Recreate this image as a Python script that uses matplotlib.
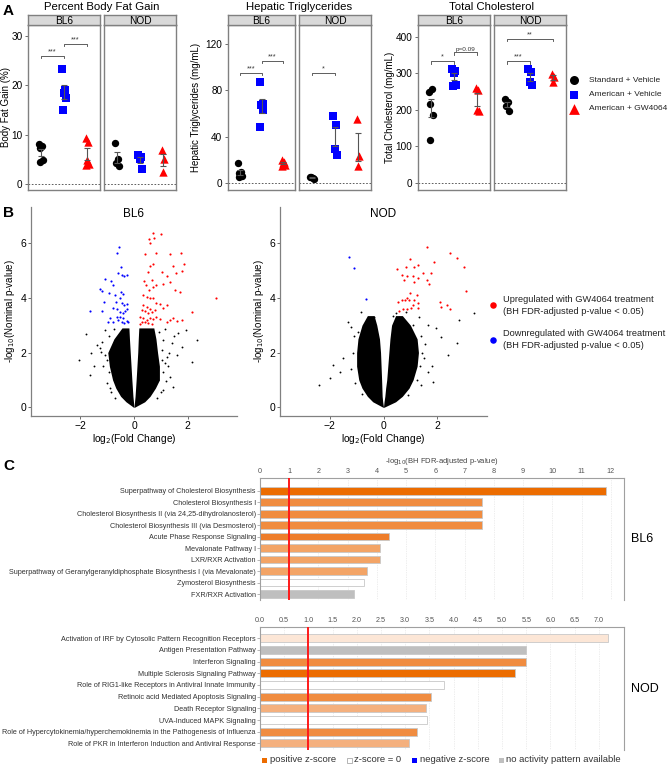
import numpy as np
import matplotlib
matplotlib.use('Agg')
import matplotlib.pyplot as plt
from matplotlib.patches import Rectangle

plt.rcParams['font.family'] = ['Liberation Sans', 'DejaVu Sans']

# ---------------- panel A data ----------------
group_names = ['Standard + Vehicle', 'American + Vehicle', 'American + GW4064']
group_colors = ['black', '#0000FF', '#FF0000']
group_markers = ['o', 's', '^']

fat_bl6 = [[8.0, 7.6, 7.2, 4.8, 4.4], [23.4, 19.1, 18.4, 17.4, 14.9], [9.2, 8.4, 4.9, 3.9, 3.8]]
fat_nod = [[8.3, 5.1, 4.3, 3.6], [5.9, 5.4, 5.1, 2.9], [6.8, 5.1, 2.4]]
tg_bl6 = [[16.9, 9.7, 8.3, 6.0, 5.4], [86.8, 68.3, 66.8, 62.5, 48.2], [19.7, 18.3, 17.4, 15.4, 14.8]]
tg_nod = [[5.1, 4.3, 5.5, 3.5], [57.4, 50.3, 28.9, 24.0], [55.4, 23.1, 14.8]]
chol_bl6 = [[248, 258, 217, 185, 119], [313, 306, 300, 268, 265], [260, 255, 200, 196]]
chol_nod = [[230, 221, 210, 196], [312, 303, 276, 267], [297, 291, 276]]

fat_bl6_sig = [(1, 2, 26.0, '***'), (2, 3, 28.5, '***')]
tg_bl6_sig = [(1, 2, 95, '***'), (2, 3, 105, '***')]
tg_nod_sig = [(1, 2, 95, '*')]
chol_bl6_sig = [(1, 2, 333, '*'), (2, 3, 357, 'p=0.09')]
chol_nod_sig = [(1, 2, 333, '***'), (1, 3, 394, '**')]

# ---------------- panel B data ----------------
# dense core of the volcano cloud (envelope)
bl6_core_y = [0.0, 0.2, 0.4, 0.7, 1.0, 1.5, 2.0, 2.5, 2.9]
bl6_core_lo_out = [-0.02, -0.3, -0.5, -0.68, -0.8, -0.92, -0.98, -0.75, -0.45]
bl6_core_lo_in = [0.0, -0.02, -0.04, -0.06, -0.08, -0.11, -0.14, -0.17, -0.19]
bl6_core_hi_in = [0.0, 0.02, 0.04, 0.06, 0.08, 0.11, 0.14, 0.16, 0.18]
bl6_core_hi_out = [0.02, 0.4, 0.6, 0.8, 0.95, 0.95, 0.88, 0.82, 0.74]

bl6_black_x = [-1.79, -2.07, -1.60, -1.48, -1.64, -1.39, -1.27, -1.24, -1.08, -1.02, -0.89,
               1.96, 2.36, 1.81, 2.18, 1.65, 1.43, 1.34, 1.44, 1.22, 1.09, 1.28, 1.03, 0.91, 1.09,
               -1.10, -1.15, -0.95, -1.00, -0.85, -0.70, -1.20, -0.95, -0.75, 1.05, 1.15, 1.10,
               1.20, 1.00, 0.85, 1.30, 0.95, 1.15, 1.50, 1.60]
bl6_black_y = [2.67, 1.73, 1.97, 1.49, 1.18, 2.28, 2.16, 2.03, 2.83, 1.73, 0.69,
               2.83, 2.46, 2.22, 1.67, 2.70, 2.34, 1.12, 0.75, 1.85, 2.46, 1.49, 1.73, 1.00, 0.63,
               1.90, 1.50, 1.30, 0.90, 0.55, 0.35, 2.40, 2.60, 2.85, 2.10, 1.60, 1.30,
               0.95, 0.55, 0.35, 2.00, 2.75, 2.85, 2.60, 1.90]

bl6_up_x = [0.70, 1.02, 0.74, 0.57, 0.60, 0.42, 0.84, 1.34, 1.74, 1.46, 1.86, 0.70, 0.60, 0.51,
            1.04, 1.22, 1.56, 1.81, 0.38, 0.66, 1.09, 1.34, 1.53, 1.71, 0.57, 0.72, 0.84, 0.45,
            0.35, 0.47, 0.60, 0.72, 0.84, 0.97, 1.22, 0.35, 0.47, 0.60, 0.29, 0.41, 0.53, 0.66,
            0.78, 1.09, 0.22, 0.35, 0.47, 0.60, 0.72, 0.84, 0.97, 1.34, 1.46, 1.59, 1.78, 1.22,
            0.29, 0.41, 0.53, 0.66, 0.22, 3.05, 2.18]
bl6_up_y = [6.38, 6.32, 6.20, 6.14, 6.00, 5.59, 5.63, 5.60, 5.65, 5.18, 5.25, 5.24, 5.16, 4.96,
            4.96, 4.78, 4.90, 4.98, 4.63, 4.65, 4.50, 4.59, 4.29, 4.23, 4.29, 4.41, 4.47, 4.47,
            4.11, 4.04, 3.98, 3.98, 3.80, 3.76, 3.74, 3.74, 3.68, 3.59, 3.56, 3.52, 3.43, 3.50,
            3.56, 3.62, 3.31, 3.25, 3.19, 3.25, 3.21, 3.31, 3.23, 3.19, 3.25, 3.16, 3.18, 3.13,
            3.13, 3.11, 3.07, 3.03, 3.03, 3.98, 3.50]
bl6_down_x = [-0.56, -0.65, -0.50, -0.61, -1.08, -0.87, -0.77, -0.46, -0.27, -0.37, -1.27,
              -1.20, -0.92, -0.71, -0.50, -0.40, -1.12, -0.67, -0.52, -0.46, -0.37, -0.27,
              -1.66, -1.20, -0.77, -0.65, -0.52, -0.42, -0.34, -0.25, -0.89, -0.96, -0.77,
              -0.58, -0.46, -0.37, -0.27, -0.21, -0.65, -0.52, -0.42]
bl6_down_y = [5.84, 5.63, 5.14, 4.90, 4.69, 4.62, 4.47, 4.84, 4.84, 4.78, 4.33,
              4.25, 4.17, 4.10, 4.23, 4.13, 3.86, 3.86, 3.98, 3.80, 3.74, 3.76,
              3.52, 3.52, 3.64, 3.59, 3.50, 3.44, 3.52, 3.59, 3.25, 3.13, 3.13,
              3.19, 3.13, 3.07, 3.16, 3.11, 3.31, 3.31, 3.28]

nod_core_y = [0.0, 0.2, 0.4, 0.7, 1.0, 1.5, 2.0, 2.5, 3.0, 3.35]
nod_core_lo_out = [-0.02, -0.4, -0.6, -0.8, -0.92, -1.0, -1.0, -0.95, -0.8, -0.6]
nod_core_lo_in = [0.0, -0.03, -0.05, -0.06, -0.07, -0.09, -0.11, -0.15, -0.25, -0.35]
nod_core_hi_in = [0.0, 0.02, 0.05, 0.08, 0.12, 0.16, 0.2, 0.24, 0.3, 0.45]
nod_core_hi_out = [0.02, 0.45, 0.7, 0.95, 1.1, 1.25, 1.3, 1.25, 1.0, 0.7]

nod_black_x = [-0.84, -1.31, -1.21, -0.59, -0.36, -0.93, 0.45, 0.58, 0.83, 1.33, 1.65, 1.96,
               2.15, 2.82, 3.35, 2.72, 2.40, -1.50, -1.62, -1.87, 1.65, 1.84, 1.52, 1.40,
               -2.40, -2.00, -1.10, -1.15, -1.20, -1.05, -0.80, -0.70, 1.40, 1.45, 1.35,
               1.25, 0.90, 1.10, 1.55, 0.35, 1.80]
nod_black_y = [3.49, 3.13, 2.95, 3.19, 3.31, 2.76, 3.44, 3.31, 3.50, 3.31, 3.01, 2.89,
               2.58, 3.19, 3.44, 2.34, 1.91, 1.79, 1.30, 1.55, 1.30, 0.94, 1.79, 0.82,
               0.82, 1.08, 2.60, 2.00, 1.40, 0.90, 0.50, 3.00, 2.60, 2.00, 1.50,
               1.00, 0.45, 3.00, 2.30, 3.35, 1.50]
nod_up_x = [1.62, 2.49, 2.75, 3.01, 0.98, 1.27, 1.12, 0.49, 0.83, 1.87, 1.48, 1.75, 0.67,
            0.89, 1.30, 1.08, 0.77, 1.61, 1.71, 1.14, 3.06, 0.98, 1.25, 0.87, 0.79, 0.96,
            1.14, 0.55, 1.27, 0.67, 2.09, 1.08, 2.13, 2.36, 0.74, 0.87, 1.04, 2.47, 1.30, 0.58]
nod_up_y = [5.87, 5.63, 5.45, 5.14, 5.41, 5.20, 5.12, 5.04, 5.14, 5.30, 4.90, 4.90, 4.84,
            4.78, 4.72, 4.78, 4.65, 4.65, 4.50, 4.59, 4.25, 4.17, 4.10, 3.98, 3.92, 3.92,
            3.92, 3.86, 3.80, 3.92, 3.86, 3.74, 3.68, 3.72, 3.59, 3.59, 3.62, 3.59, 3.64, 3.52]
nod_down_x = [-1.27, -1.09, -0.65]
nod_down_y = [5.51, 5.08, 3.94]

# ---------------- panel C data ----------------
bl6_paths = ['Superpathway of Cholesterol Biosynthesis', 'Cholesterol Biosynthesis I',
             'Cholesterol Biosynthesis II (via 24,25-dihydrolanosterol)',
             'Cholesterol Biosynthesis III (via Desmosterol)', 'Acute Phase Response Signaling',
             'Mevalonate Pathway I', 'LXR/RXR Activation',
             'Superpathway of Geranylgeranyldiphosphate Biosynthesis I (via Mevalonate)',
             'Zymosterol Biosynthesis', 'FXR/RXR Activation']
bl6_logp = [11.85, 7.6, 7.6, 7.6, 4.4, 4.12, 4.12, 3.65, 3.56, 3.22]
bl6_cols = ['#EC6C00', '#F08C40', '#F08C40', '#F08C40', '#EE7D2A', '#F3A466', '#F3A466',
            '#F3A466', 'white', '#BFBFBF']

nod_paths = ['Activation of IRF by Cytosolic Pattern Recognition Receptors',
             'Antigen Presentation Pathway', 'Interferon Signaling',
             'Multiple Sclerosis Signaling Pathway',
             'Role of RIG1-like Receptors in Antiviral Innate Immunity',
             'Retinoic acid Mediated Apoptosis Signaling', 'Death Receptor Signaling',
             'UVA-Induced MAPK Signaling',
             'Role of Hypercytokinemia/hyperchemokinemia in the Pathogenesis of Influenza',
             'Role of PKR in Interferon Induction and Antiviral Response']
nod_logp = [7.18, 5.5, 5.5, 5.27, 3.81, 3.53, 3.43, 3.44, 3.25, 3.08]
nod_cols = ['#FCE6D6', '#BFBFBF', '#F08C40', '#EC6C00', 'white', '#F08C40', '#F4B07E',
            'white', '#F08C40', '#F4B07E']

W, H = 672, 767
fig = plt.figure(figsize=(W / 100, H / 100), dpi=100)


def px_axes(x0, y0, x1, y1):
    return fig.add_axes([x0 / W, 1 - y1 / H, (x1 - x0) / W, (y1 - y0) / H])


jitter = [-0.07, 0.05, -0.02, 0.08, -0.05]
edge = '#808080'


def facet(x0, x1, data, sig, ylim, yticks, strip, show_y):
    ax = px_axes(x0, 25, x1, 190)
    st = px_axes(x0, 15, x1, 25)
    st.set_facecolor('#D9D9D9')
    st.set_xticks([])
    st.set_yticks([])
    st.text(0.5, 0.45, strip, ha='center', va='center', fontsize=7.3, transform=st.transAxes)
    for a in (ax, st):
        for sp in a.spines.values():
            sp.set_color(edge)
            sp.set_linewidth(1.0)
    ax.set_xlim(0.45, 3.55)
    ax.set_ylim(ylim)
    ax.axhline(0, color='#444444', lw=0.6, ls=(0, (2, 2)), zorder=1)
    sizes = [28, 26, 36]
    for i, vals in enumerate(data):
        vals = np.asarray(vals, dtype=float)
        xs = i + 1 + np.array(jitter[:len(vals)])
        ax.scatter(xs, vals, c=group_colors[i], marker=group_markers[i], s=sizes[i],
                   linewidths=0, zorder=3)
        m = vals.mean()
        se = vals.std(ddof=1) / np.sqrt(len(vals))
        ax.errorbar(i + 1, m, yerr=se, fmt='none', ecolor='#555555', elinewidth=0.8,
                    capsize=2.5, capthick=0.8, zorder=4)
    span = ylim[1] - ylim[0]
    for a, b, h, lab in sig:
        d = span * 0.014
        ax.plot([a, a, b, b], [h - d, h, h, h - d], color='#444444', lw=0.6)
        ax.text((a + b) / 2, h + span * 0.004, lab, ha='center', va='bottom',
                fontsize=4.6 if lab.startswith('p') else 5.2, color='#333333')
    ax.set_xticks([])
    if show_y:
        ax.set_yticks(yticks)
        ax.tick_params(axis='y', labelsize=7.2, length=2.5, width=0.6, color='#555555', pad=1.5)
    else:
        ax.set_yticks([])
    return ax


panelA = [
    ('Percent Body Fat Gain', 'Body Fat Gain (%)', fat_bl6, fat_nod, fat_bl6_sig, [],
     (-1.3, 32.3), [0, 10, 20, 30], (28, 100), (104, 176), 6),
    ('Hepatic Triglycerides', 'Hepatic Triglycerides (mg/mL)', tg_bl6, tg_nod, tg_bl6_sig,
     tg_nod_sig, (-6, 136), [0, 40, 80, 120], (228, 295), (299, 371), 196),
    ('Total Cholesterol', 'Total Cholesterol (mg/mL)', chol_bl6, chol_nod, chol_bl6_sig,
     chol_nod_sig, (-19, 432), [0, 100, 200, 300, 400], (418, 490), (494, 566), 390),
]

for title, ylab, d1, d2, s1, s2, ylim, yt, xb, xn, ylx in panelA:
    facet(xb[0], xb[1], d1, s1, ylim, yt, 'BL6', True)
    facet(xn[0], xn[1], d2, s2, ylim, yt, 'NOD', False)
    fig.text((xb[0] + xn[1]) / 2 / W, 1 - 7 / H, title, ha='center', va='center', fontsize=8.2)
    fig.text(ylx / W, 1 - 107 / H, ylab, ha='center', va='center', rotation=90, fontsize=7)


# ---------------- panel B ----------------
def volcano(x0, x1, title, cy, lo_out, lo_in, hi_in, hi_out, bx, by, ux, uy, dx, dy):
    ax = px_axes(x0, 207, x1, 416)
    ax.fill_betweenx(cy, lo_out, lo_in, color='black', lw=0, zorder=2)
    ax.fill_betweenx(cy, hi_in, hi_out, color='black', lw=0, zorder=2)
    ax.scatter(bx, by, s=1.8, c='black', linewidths=0, zorder=3)
    ax.scatter(ux, uy, s=2.4, c='#FF0000', linewidths=0, zorder=3)
    ax.scatter(dx, dy, s=2.4, c='#0000FF', linewidths=0, zorder=3)
    ax.set_xlim(-3.85, 3.85)
    ax.set_ylim(-0.32, 7.32)
    ax.set_xticks([-2, 0, 2])
    ax.set_yticks([0, 2, 4, 6])
    for s in ('top', 'right'):
        ax.spines[s].set_visible(False)
    for s in ('left', 'bottom'):
        ax.spines[s].set_color(edge)
        ax.spines[s].set_linewidth(0.9)
    ax.tick_params(labelsize=7.5, length=2, width=0.6, color='#555555', pad=1.5)
    ax.set_xlabel(r'log$_2$(Fold Change)', fontsize=7.3, labelpad=1)
    ax.set_ylabel(r'-log$_{10}$(Nominal p-value)', fontsize=7, labelpad=2)
    ax.text(0.5, 0.995, title, transform=ax.transAxes, fontsize=8.5, ha='center', va='top')
    return ax


volcano(31, 237, 'BL6', bl6_core_y, bl6_core_lo_out, bl6_core_lo_in, bl6_core_hi_in,
        bl6_core_hi_out, bl6_black_x, bl6_black_y, bl6_up_x, bl6_up_y, bl6_down_x, bl6_down_y)
volcano(280, 487, 'NOD', nod_core_y, nod_core_lo_out, nod_core_lo_in, nod_core_hi_in,
        nod_core_hi_out, nod_black_x, nod_black_y, nod_up_x, nod_up_y, nod_down_x, nod_down_y)


# ---------------- panel C ----------------
def pathway_bars(y0, y1, names, vals, cols, xmax, ticks, fmt, ylim, side, xlabel=None):
    ax = px_axes(260, y0, 624, y1)
    pos = np.arange(len(names))
    ax.barh(pos, vals, height=0.68, color=cols, edgecolor='#C8C8C8', linewidth=0.6, zorder=2)
    ax.axvline(1, color='#FF1A1A', lw=1.4, zorder=3)
    ax.set_xlim(0, xmax)
    ax.set_ylim(ylim)
    ax.set_yticks(pos)
    ax.set_yticklabels(names, fontsize=5.2, color='#333333')
    ax.xaxis.tick_top()
    ax.set_xticks(ticks)
    ax.set_xticklabels([fmt % t for t in ticks], fontsize=5.2, color='#555555')
    ax.tick_params(axis='x', length=0, pad=2)
    ax.tick_params(axis='y', length=2, width=0.5, color='#999999', pad=1)
    ax.grid(axis='x', color='#DDDDDD', lw=0.5, ls=(0, (1, 1.5)), zorder=0)
    ax.spines['bottom'].set_visible(False)
    for s in ('top', 'left', 'right'):
        ax.spines[s].set_color('#A0A0A0')
        ax.spines[s].set_linewidth(0.8)
    if xlabel:
        ax.xaxis.set_label_position('top')
        ax.set_xlabel(xlabel, fontsize=5.5, color='#444444', labelpad=4)
    ax.text(1.02, 0.5, side, transform=ax.transAxes, fontsize=9, va='center', ha='left')
    return ax


pathway_bars(478, 600, bl6_paths, bl6_logp, bl6_cols, 12.45, list(range(13)), '%d',
             (9.52, -1.1), 'BL6', r'-log$_{10}$(BH FDR-adjusted p-value)')
pathway_bars(627, 750, nod_paths, nod_logp, nod_cols, 7.52, list(np.arange(0, 7.01, 0.5)),
             '%.1f', (9.57, -0.97), 'NOD')

# ---------------- overlay: panel letters and legends ----------------
ov = fig.add_axes([0, 0, 1, 1])
ov.set_xlim(0, W)
ov.set_ylim(H, 0)
ov.axis('off')

for lab, y in (('A', 11), ('B', 213), ('C', 466)):
    ov.text(3, y, lab, fontsize=11, fontweight='bold', va='center', ha='left')

for i, (name, c, m) in enumerate(zip(group_names, group_colors, group_markers)):
    y = 80 + 14.5 * i
    ov.scatter([574], [y], c=c, marker=m, s=[42, 40, 60][i], linewidths=0)
    ov.text(589, y, name, fontsize=6.0, va='center', ha='left', color='#222222')

for y, c, l1 in ((305, '#FF0000', 'Upregulated with GW4064 treatment'),
                 (340, '#0000FF', 'Downregulated with GW4064 treatment')):
    ov.scatter([493], [y], c=c, s=22, linewidths=0)
    ov.text(503, y - 6, l1, fontsize=6.7, va='center', ha='left', color='#222222')
    ov.text(503, y + 6, '(BH FDR-adjusted p-value < 0.05)', fontsize=6.7, va='center',
            ha='left', color='#222222')

leg_c = [(262, '#EC6C00', 'none', 'positive z-score'), (347, 'white', '#999999', 'z-score = 0'),
         (412, '#0000FF', 'none', 'negative z-score'),
         (499, '#BFBFBF', 'none', 'no activity pattern available')]
for x, fc, ec, lab in leg_c:
    ov.add_patch(Rectangle((x, 757.5), 5, 5, facecolor=fc, edgecolor=ec, lw=0.5))
    ov.text(x + 7.5, 760, lab, fontsize=6.8, va='center', ha='left', color='#333333')

fig.savefig('out.png', dpi=100)
